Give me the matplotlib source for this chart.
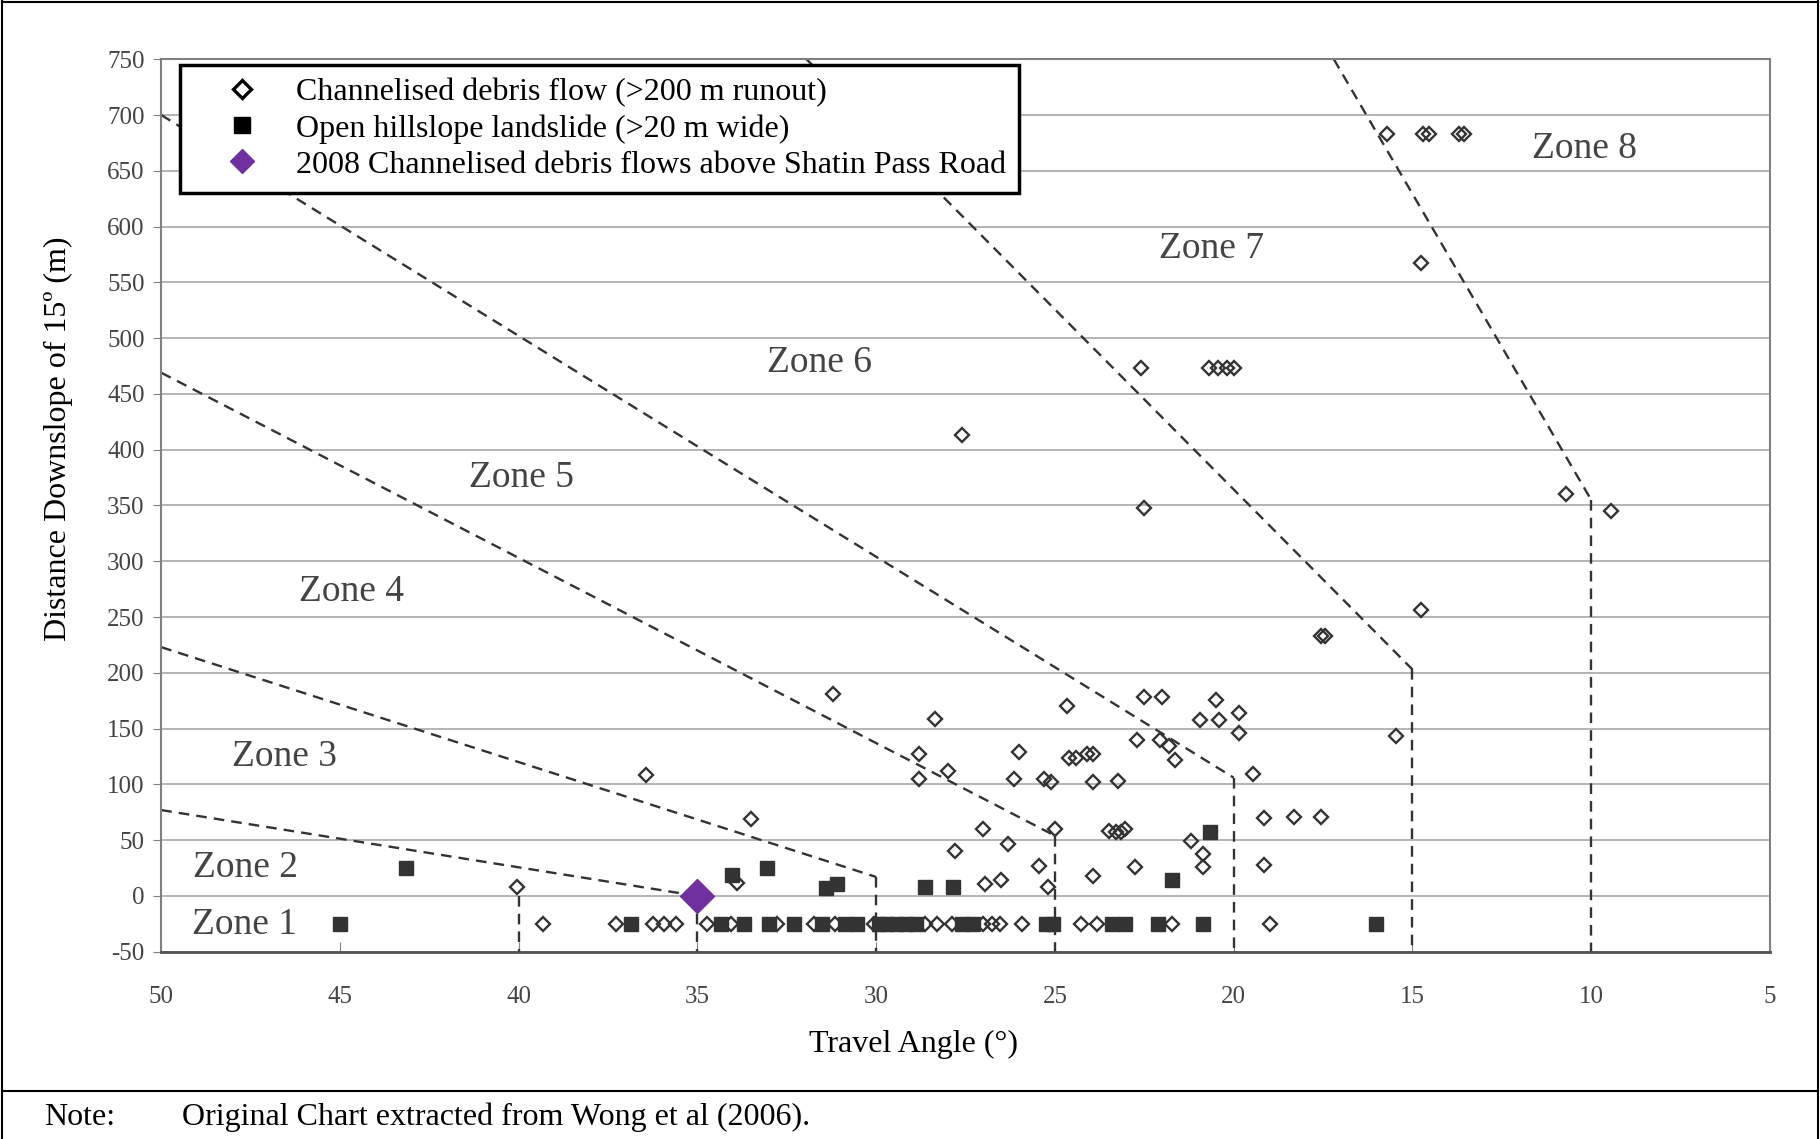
""" Travel angle vs distance downslope of 15 deg, with runout zones (after Wong et al 2006). """

import matplotlib.pyplot as plt
from matplotlib.lines import Line2D

plt.rcParams['font.family'] = ['Liberation Serif', 'DejaVu Serif']
plt.rcParams['axes.unicode_minus'] = False

# Channelised debris flows (>200 m runout) - open diamonds
flow_angle = [15.7, 14.7, 14.55, 13.7, 13.55, 14.75,
              22.6, 20.7, 20.45, 20.2, 20.0,
              27.6, 22.5, 10.7, 9.45, 17.55, 17.45, 14.75, 15.45, 31.2,
              28.35, 28.8, 28.8, 28.0, 26.0, 26.15, 25.3, 25.1, 24.65,
              24.6, 24.4, 24.1, 23.95, 23.95, 23.25, 22.5, 22.0, 22.7,
              22.05, 21.8, 21.65, 20.5, 20.95, 20.4, 19.85, 19.85, 19.45,
              19.15, 18.3, 17.55, 27.0, 26.3, 27.8, 25.0, 23.5, 23.3,
              23.15, 23.05, 21.2, 20.85, 20.85, 19.15, 25.45, 25.2, 26.95,
              26.5, 23.95, 22.75, 36.45, 33.5, 33.9, 40.05,
              39.33, 37.28, 36.24, 35.93, 35.61, 34.72, 34.07, 32.78, 31.75,
              31.14, 30.07, 28.63, 28.3, 27.88, 27.0, 26.77, 26.53, 25.93,
              24.27, 23.83, 21.74, 18.99]
flow_dist = [683, 683, 683, 683, 683, 567,
             473, 473, 473, 473, 473,
             413, 348, 360, 345, 233, 233, 256, 143, 181,
             159, 127, 105, 112, 129, 105, 105, 102, 170,
             124, 124, 127, 127, 102, 103, 178, 178, 140,
             140, 134, 122, 176, 158, 158, 164, 146, 109,
             70, 71, 71, 60, 47, 40, 60, 58, 57,
             57, 60, 49, 38, 26, 28, 27, 8, 11,
             14, 18, 26, 108, 69, 12, 8,
             -25, -25, -25, -25, -25, -25, -25, -25, -25,
             -25, -25, -25, -25, -25, -25, -25, -25, -25,
             -25, -25, -25, -25]

# Open hillslope landslides (>20 m wide) - filled squares
slide_angle = [43.15, 34.03, 33.05, 31.4, 31.1, 28.63, 27.86, 20.65, 21.72,
               45.0, 36.86, 34.35, 33.7, 33.0, 32.31, 31.52, 30.86, 30.54,
               29.93, 29.74, 29.46, 29.18, 28.9, 27.6, 27.28, 25.25, 25.05,
               23.41, 23.04, 22.11, 20.85, 16.01]
slide_dist = [25, 19, 25, 7, 11, 8, 8, 57, 14,
              -25, -25, -25, -25, -25, -25, -25, -25, -25,
              -25, -25, -25, -25, -25, -25, -25, -25, -25,
              -25, -25, -25, -25, -25]

# 2008 channelised debris flows above Shatin Pass Road
event_angle = [35.0]
event_dist = [0]

# zone boundaries: sloping part (angle, distance) then vertical drop to -50
bound_angle = [[50, 35], [50, 30], [50, 25], [50, 20], [31.95, 15], [17.2, 10]]
bound_dist = [[77, 0], [223, 17], [469, 54], [700, 106], [750, 203], [750, 355]]
extra_vertical = [40]   # extra zone 1 divider at 40 deg

zone_names = ["Zone 1", "Zone 2", "Zone 3", "Zone 4", "Zone 5", "Zone 6", "Zone 7", "Zone 8"]
zone_angle = [47.67, 47.63, 46.56, 44.68, 39.92, 31.59, 20.63, 10.2]
zone_dist = [-26, 25, 125, 273, 375, 478, 580, 670]

fig = plt.figure(figsize=(18.2, 11.39), dpi=100)
ax = fig.add_axes([0.0886, 0.1644, 0.8839, 0.7836])

ax.set_xlim(50, 5)
ax.set_ylim(-50, 750)
ax.set_xticks(range(50, 4, -5))
ax.set_yticks(range(-50, 751, 50))
ax.yaxis.grid(True, color="#a0a0a0", lw=1.1)
ax.set_axisbelow(True)

for s in ax.spines.values():
    s.set_color("#808080")
    s.set_linewidth(1.5)
ax.spines["bottom"].set_color("#505050")
ax.spines["bottom"].set_linewidth(2)

ax.tick_params(axis="x", direction="in", length=7, color="#808080",
               labelsize=18, labelcolor="#444444", pad=25)
ax.tick_params(axis="y", direction="out", length=6, color="#808080",
               labelsize=18, labelcolor="#444444", pad=6)

dash = dict(color="#333333", lw=1.7, dashes=(4.5, 3))
for xs, ys in zip(bound_angle, bound_dist):
    ax.plot(xs, ys, **dash)
    ax.plot([xs[-1], xs[-1]], [ys[-1], -50], **dash)
for xv in extra_vertical:
    ax.plot([xv, xv], [0, -50], **dash)

ax.plot(flow_angle, flow_dist, ls="none", marker="D", ms=7.5, mfc="none",
        mec="#333333", mew=1.7)
ax.plot(slide_angle, slide_dist, ls="none", marker="s", ms=10.5, mfc="#333333",
        mec="#333333")
ax.plot(event_angle, event_dist, ls="none", marker="D", ms=17, mfc="#7030a0",
        mec="#7030a0", zorder=5)

for name, xa, ya in zip(zone_names, zone_angle, zone_dist):
    ax.text(xa, ya, name, fontsize=27, color="#444444", ha="center", va="center")

ax.set_xlabel("Travel Angle (°)", fontsize=23, va="center")
ax.set_ylabel("Distance Downslope of 15º (m)", fontsize=23, va="center")
ax.xaxis.set_label_coords(0.4676, -0.104)
ax.yaxis.set_label_coords(-0.0642, 0.5747)

handles = [
    Line2D([], [], ls="none", marker="D", ms=9, mfc="none", mec="black", mew=2.4),
    Line2D([], [], ls="none", marker="s", ms=11, mfc="black", mec="black"),
    Line2D([], [], ls="none", marker="D", ms=12, mfc="#7030a0", mec="#7030a0"),
]
labels = ["Channelised debris flow (>200 m runout)",
          "Open hillslope landslide (>20 m wide)",
          "2008 Channelised debris flows above Shatin Pass Road"]
leg = ax.legend(handles, labels, loc="upper left", bbox_to_anchor=(0.0116, 0.994),
                borderaxespad=0, fontsize=23, frameon=True, fancybox=False,
                framealpha=1, edgecolor="black", labelspacing=0.21,
                handletextpad=0.15, borderpad=0.42, handlelength=3.05)
leg.get_frame().set_linewidth(2.5)

# outer frame and note strip
for xs, ys in [([0.001, 0.001], [0, 0.999]), ([0.999, 0.999], [0, 0.999]),
               ([0.001, 0.999], [0.998, 0.998]), ([0.001, 0.999], [0.042, 0.042])]:
    fig.add_artist(Line2D(xs, ys, transform=fig.transFigure, color="black", lw=1.5))
fig.text(0.024, 0.019, "Note:", fontsize=23, va="center")
fig.text(0.1, 0.019, "Original Chart extracted from Wong et al (2006).", fontsize=23, va="center")

plt.savefig("out.png", dpi=100)
